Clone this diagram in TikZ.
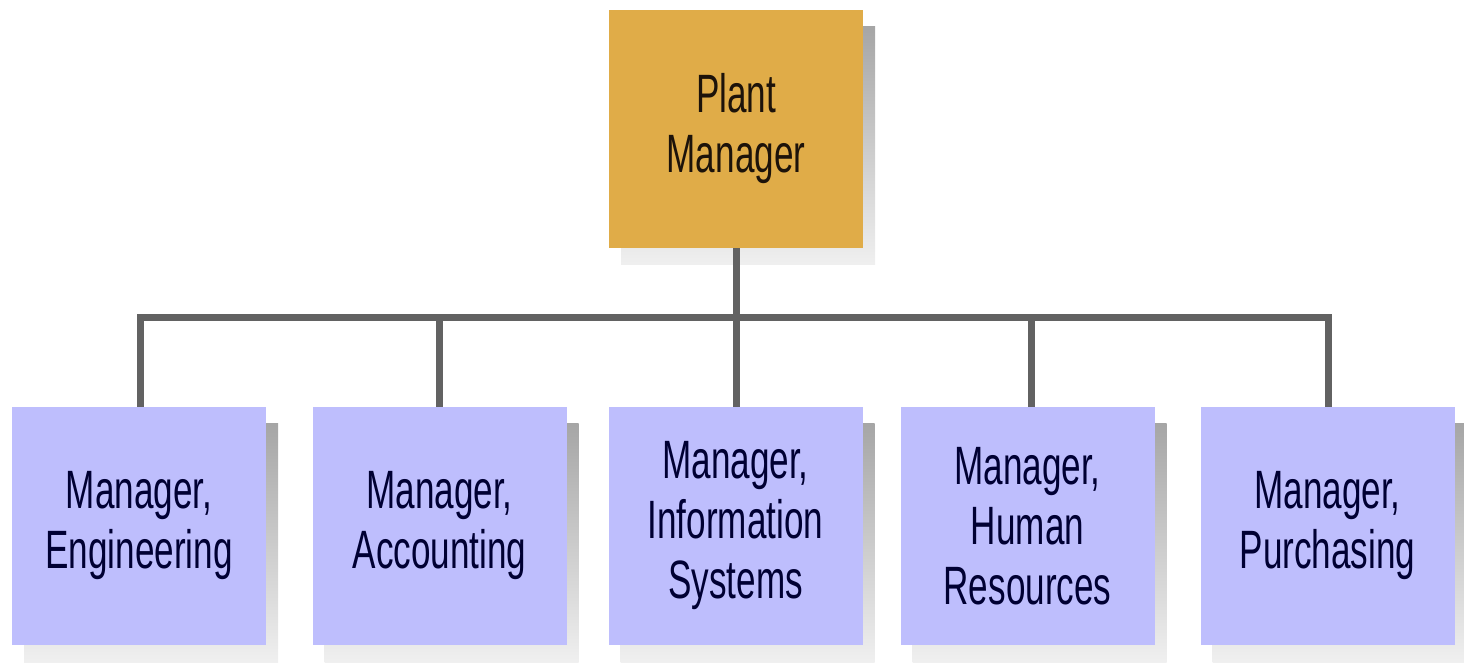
\documentclass[tikz,border=0pt]{standalone}
\usepackage{fontspec}
\setmainfont{Liberation Sans}[FakeStretch=0.65]
\usetikzlibrary{shadows}

\definecolor{plantgold}{HTML}{E0AC48}
\definecolor{mgrblue}{HTML}{BEBEFD}
\definecolor{linkgray}{HTML}{626262}

\tikzset{
  orgbox/.style={minimum width=127pt, minimum height=119pt, inner sep=0pt,
    align=center, font=\fontsize{27}{30}\selectfont,
    general shadow={shadow xshift=6pt, shadow yshift=-8.5pt,
      top color=gray!70, bottom color=gray!12}},
  topbox/.style={orgbox, fill=plantgold, text=black!85!brown},
  mgrbox/.style={orgbox, fill=mgrblue, text=black!80!blue},
  link/.style={draw=linkgray, line width=3.5pt, line join=miter}
}

\begin{document}
\begin{tikzpicture}[x=0.5pt,y=-0.5pt]
                \useasboundingbox (0,0) rectangle (1464,663);
                % top of the chart
                \node[topbox] (plant) at (736,129) {Plant\\Manager};
                % the five managers below
                \node[mgrbox] (eng) at (139,526) {Manager,\\Engineering};
                \node[mgrbox] (acc) at (439.5,526) {Manager,\\Accounting};
                \node[mgrbox] (info) at (735.5,526) {Manager,\\Information\\Systems};
                \node[mgrbox] (hr) at (1027.5,526) {Manager,\\Human\\Resources};
                \node[mgrbox] (pur) at (1327.5,526) {Manager,\\Purchasing};
                % bus line
                \coordinate (busl) at (140,318);
                \coordinate (busr) at (1328,318);
                \draw[link] (eng.north -| busl) -- (busl) -- (busr) -- (pur.north -| busr);
                \draw[link] (plant.south) -- (info.north -| plant.south);
                \foreach \m/\x in {acc/439,hr/1031}
                    \draw[link] (\x,318) -- (\m.north -| {(\x,0)});
            \end{tikzpicture}
\end{document}
